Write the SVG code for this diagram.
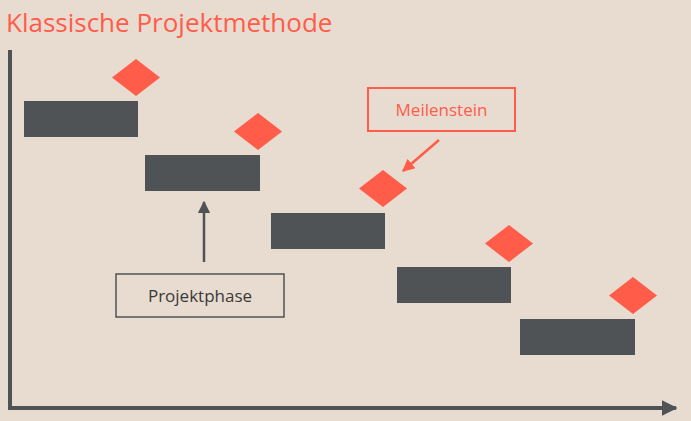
<svg xmlns="http://www.w3.org/2000/svg" width="691" height="421" viewBox="0 0 691 421">
<defs>
<style>
.bar{fill:#505356}
.ms{fill:#ff5c4a}
text{font-family:"Open Sans","Noto Sans",sans-serif}
</style>
<marker id="ar" viewBox="0 0 10 10" refX="9" refY="5" markerWidth="5" markerHeight="5" orient="auto"><path d="M0,0L10,5L0,10z" fill="#ff5c4a"/></marker>
<marker id="ag" viewBox="0 0 10 10" refX="9" refY="5" markerWidth="5" markerHeight="5" orient="auto"><path d="M0,0L10,5L0,10z" fill="#505356"/></marker>
<marker id="ax" viewBox="0 0 10 10" refX="9" refY="5" markerWidth="4" markerHeight="4" orient="auto"><path d="M0,0L10,5L0,10z" fill="#505356"/></marker>
</defs>
<rect width="691" height="421" fill="#e8dbd0"/>
<text x="6" y="32" font-size="26" fill="#ff5c4a">Klassische Projektmethode</text>
<g id="axes" stroke="#505356" stroke-width="4" fill="none">
<path d="M10,50V408"/>
<path d="M8,408H676" marker-end="url(#ax)"/>
</g>
<g id="phase1"><rect class="bar" x="24" y="101" width="114" height="36"/><path class="ms" d="M136,59L160,77.5L136,96L112,77.5z"/></g>
<g id="phase2"><rect class="bar" x="145" y="155" width="115" height="36"/><path class="ms" d="M258,113L282,131.5L258,150L234,131.5z"/></g>
<g id="phase3"><rect class="bar" x="271" y="213" width="114" height="36"/><path class="ms" d="M383,170L407,188.5L383,207L359,188.5z"/></g>
<g id="phase4"><rect class="bar" x="397" y="267" width="114" height="36"/><path class="ms" d="M509,225L533,243.5L509,262L485,243.5z"/></g>
<g id="phase5"><rect class="bar" x="520" y="319" width="115" height="36"/><path class="ms" d="M633,277L657,295.5L633,314L609,295.5z"/></g>
<g id="meilenstein"><rect x="368" y="88" width="147" height="43" fill="none" stroke="#ff5c4a" stroke-width="2"/><text x="441.5" y="116" font-size="17" fill="#ff5c4a" text-anchor="middle">Meilenstein</text></g>
<g id="projektphase"><rect x="116" y="274" width="168" height="43" fill="none" stroke="#505356" stroke-width="1.5"/><text x="200" y="302" font-size="17" fill="#3a3a3a" text-anchor="middle">Projektphase</text></g>
<g id="connectors">
<path d="M439,140L403,171" stroke="#ff5c4a" stroke-width="2.5" marker-end="url(#ar)"/>
<path d="M204,262V202" stroke="#505356" stroke-width="2.5" marker-end="url(#ag)"/>
</g>
</svg>
